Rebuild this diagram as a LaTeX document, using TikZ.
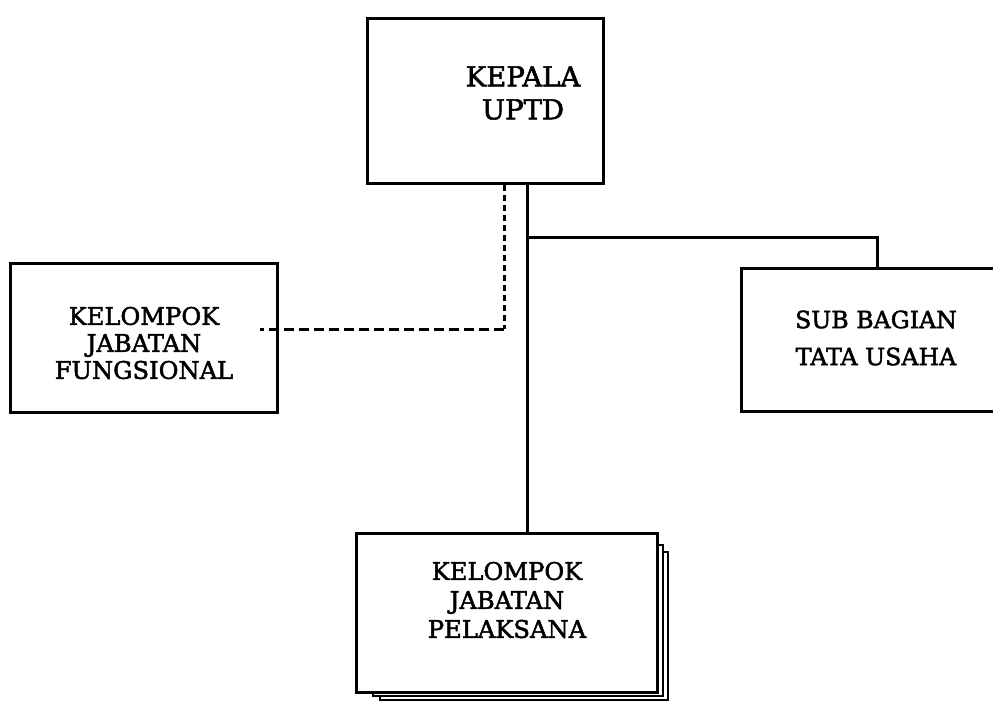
\documentclass[tikz,border=0pt]{standalone}
\usepackage{fontspec}
\setmainfont{DejaVu Serif}
\newfontfamily\lblfont{DejaVu Serif}[FakeBold=2]
\begin{document}
\begin{tikzpicture}[x=1pt,y=-1pt, line width=3pt,
  box/.style={draw, fill=white, inner sep=0pt},
  shadowbox/.style={draw, fill=white, inner sep=0pt, line width=1.8pt},
  lbl/.style={align=center, inner sep=0pt, font=\lblfont\fontsize{24.2}{27}\selectfont},
  vdash/.style={dash pattern=on 6pt off 4pt},
  hdash/.style={dash pattern=on 10pt off 5pt}]
\useasboundingbox (0,0) rectangle (993,702);
% boxes
\node[box, minimum width=236pt, minimum height=165pt] (kepala) at (485,100.5) {};
\node[lbl, font=\lblfont\fontsize{27.5}{33}\selectfont] (kepalat) at (523,93) {KEPALA\\UPTD};
\node[box, minimum width=267pt, minimum height=149pt] (fung) at (143.5,337.5) {};
\node[lbl] (fungt) at (144,343) {KELOMPOK\\JABATAN\\FUNGSIONAL};
\node[box, minimum width=259pt, minimum height=143pt] (sub) at (870.5,339.5) {};
\node[lbl, font=\lblfont\fontsize{23.7}{37}\selectfont] (subt) at (876,338) {SUB BAGIAN\\TATA USAHA};
\node[shadowbox, minimum width=288pt, minimum height=148pt] (pel3) at (524,626) {};
\node[shadowbox, minimum width=290pt, minimum height=151pt] (pel2) at (518,620.5) {};
\node[box, minimum width=301pt, minimum height=159pt] (pelak) at (506.5,612.5) {};
\node[lbl, font=\lblfont\fontsize{24.2}{29}\selectfont] (pelakt) at (507,600) {KELOMPOK\\JABATAN\\PELAKSANA};
% connectors
\coordinate (trunk) at (527,237);
\coordinate (tu) at (877,237);
\coordinate (dj) at (504,329);
\path (fung.east) ++(-19,0) coordinate (fx);
\draw (trunk |- kepala.south) -- (trunk |- pelak.north);
\draw (trunk) -- (tu) -- (tu |- sub.north);
\draw[vdash] (dj |- kepala.south) -- (dj);
\draw[hdash] (dj) -- (fx |- dj);
\end{tikzpicture}
\end{document}
